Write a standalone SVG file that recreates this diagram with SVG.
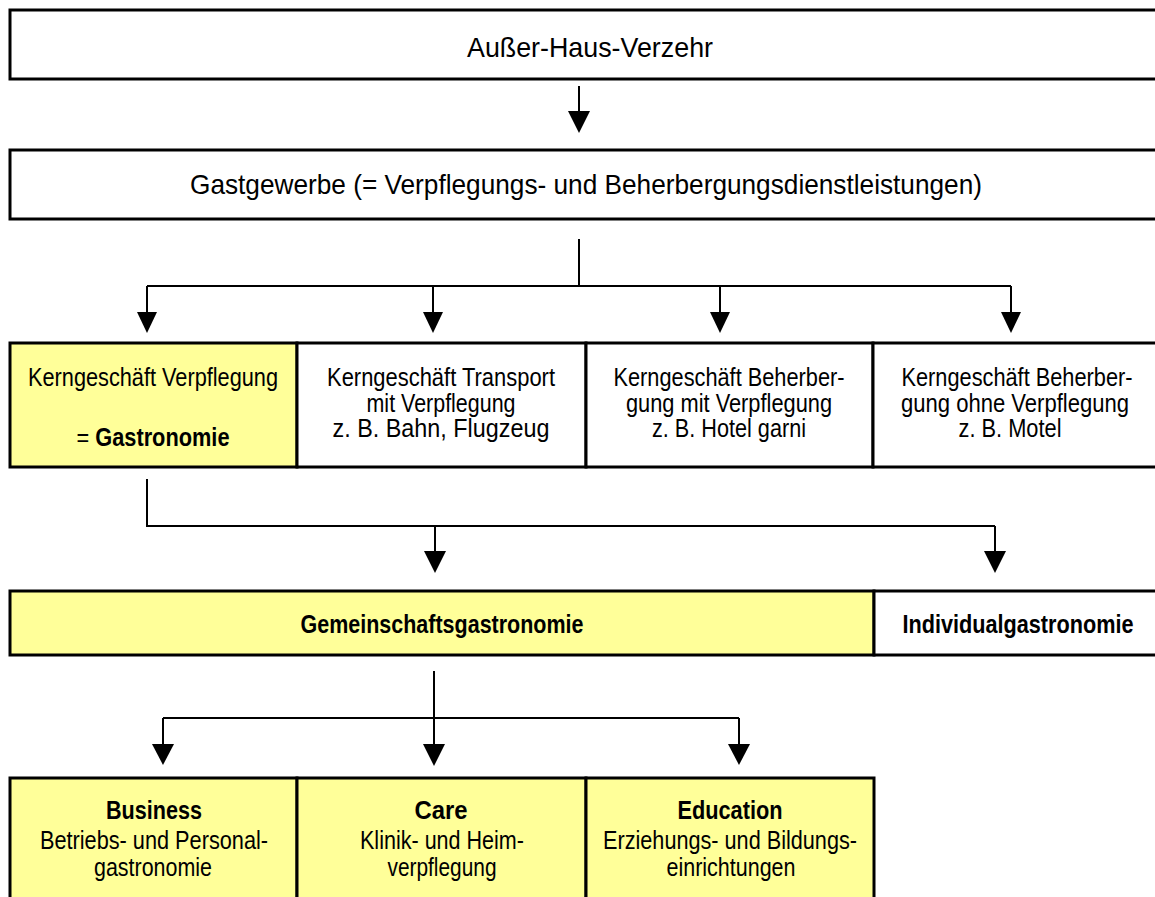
<svg xmlns="http://www.w3.org/2000/svg" width="1155" height="897" viewBox="0 0 1155 897">
<style>
.box{fill:#fff;stroke:#000;stroke-width:3}
.yel{fill:#ffff99;stroke:#000;stroke-width:3}
.t{font-family:"Liberation Sans",Arial,sans-serif;font-size:25px;fill:#000;text-anchor:middle}
.big{font-size:28px}
.b{font-weight:bold}
.c{fill:none;stroke:#000;stroke-width:2}
.h{fill:#000;stroke:none}
</style>
<rect width="1155" height="897" fill="#fff"/>
<g id="connectors">
<path class="c" d="M579,86V112"/>
<polygon class="h" points="568,111 590,111 579,133"/>
<path class="c" d="M579,239V286M147,286H1011M147,286V313M433,286V313M720,286V313M1011,286V313"/>
<polygon class="h" points="137,312 157,312 147,333"/>
<polygon class="h" points="423,312 443,312 433,333"/>
<polygon class="h" points="710,312 730,312 720,333"/>
<polygon class="h" points="1001,312 1021,312 1011,333"/>
<path class="c" d="M147,479V526H995M435,526V552M995,526V552"/>
<polygon class="h" points="424,551 446,551 435,573"/>
<polygon class="h" points="984,551 1006,551 995,573"/>
<path class="c" d="M434,671V745M163,718H739M163,718V745M739,718V745"/>
<polygon class="h" points="152,744 174,744 163,765"/>
<polygon class="h" points="423,744 445,744 434,766"/>
<polygon class="h" points="728,744 750,744 739,765"/>
</g>
<g id="n-ausser-haus">
<rect class="box" x="10" y="10" width="1153" height="69"/>
<text class="t big" x="590" y="57" textLength="246" lengthAdjust="spacingAndGlyphs">Außer-Haus-Verzehr</text>
</g>
<g id="n-gastgewerbe">
<rect class="box" x="10" y="150" width="1153" height="69"/>
<text class="t big" x="586" y="194" textLength="792" lengthAdjust="spacingAndGlyphs">Gastgewerbe (= Verpflegungs- und Beherbergungsdienstleistungen)</text>
</g>
<g id="n-verpflegung">
<rect class="yel" x="10" y="343" width="287" height="124"/>
<text class="t" x="153" y="386" textLength="250" lengthAdjust="spacingAndGlyphs">Kerngeschäft Verpflegung</text>
<text class="t" x="153" y="446" textLength="153" lengthAdjust="spacingAndGlyphs">= <tspan class="b">Gastronomie</tspan></text>
</g>
<g id="n-transport">
<rect class="box" x="297" y="343" width="289" height="124"/>
<text class="t" x="441" y="386" textLength="228" lengthAdjust="spacingAndGlyphs">Kerngeschäft Transport</text>
<text class="t" x="441" y="412" textLength="149" lengthAdjust="spacingAndGlyphs">mit Verpflegung</text>
<text class="t" x="441" y="437" textLength="217" lengthAdjust="spacingAndGlyphs">z. B. Bahn, Flugzeug</text>
</g>
<g id="n-beherbergung-mit">
<rect class="box" x="586" y="343" width="287" height="124"/>
<text class="t" x="729" y="386" textLength="231" lengthAdjust="spacingAndGlyphs">Kerngeschäft Beherber-</text>
<text class="t" x="729" y="412" textLength="206" lengthAdjust="spacingAndGlyphs">gung mit Verpflegung</text>
<text class="t" x="729" y="437" textLength="154" lengthAdjust="spacingAndGlyphs">z. B. Hotel garni</text>
</g>
<g id="n-beherbergung-ohne">
<rect class="box" x="873" y="343" width="290" height="124"/>
<text class="t" x="1017" y="386" textLength="231" lengthAdjust="spacingAndGlyphs">Kerngeschäft Beherber-</text>
<text class="t" x="1015" y="412" textLength="228" lengthAdjust="spacingAndGlyphs">gung ohne Verpflegung</text>
<text class="t" x="1010" y="437" textLength="103" lengthAdjust="spacingAndGlyphs">z. B. Motel</text>
</g>
<g id="n-gemeinschaft">
<rect class="yel" x="10" y="591" width="864" height="64"/>
<text class="t b" x="442" y="633" textLength="283" lengthAdjust="spacingAndGlyphs">Gemeinschaftsgastronomie</text>
</g>
<g id="n-individual">
<rect class="box" x="874" y="591" width="289" height="64"/>
<text class="t b" x="1018" y="633" textLength="231" lengthAdjust="spacingAndGlyphs">Individualgastronomie</text>
</g>
<g id="n-business">
<rect class="yel" x="10" y="778" width="287" height="140"/>
<text class="t b" x="154" y="819" textLength="96" lengthAdjust="spacingAndGlyphs">Business</text>
<text class="t" x="154" y="849" textLength="228" lengthAdjust="spacingAndGlyphs">Betriebs- und Personal-</text>
<text class="t" x="153" y="876" textLength="118" lengthAdjust="spacingAndGlyphs">gastronomie</text>
</g>
<g id="n-care">
<rect class="yel" x="297" y="778" width="289" height="140"/>
<text class="t b" x="441" y="819" textLength="53" lengthAdjust="spacingAndGlyphs">Care</text>
<text class="t" x="442" y="849" textLength="164" lengthAdjust="spacingAndGlyphs">Klinik- und Heim-</text>
<text class="t" x="442" y="876" textLength="109" lengthAdjust="spacingAndGlyphs">verpflegung</text>
</g>
<g id="n-education">
<rect class="yel" x="586" y="778" width="288" height="140"/>
<text class="t b" x="730" y="819" textLength="105" lengthAdjust="spacingAndGlyphs">Education</text>
<text class="t" x="730" y="849" textLength="254" lengthAdjust="spacingAndGlyphs">Erziehungs- und Bildungs-</text>
<text class="t" x="731" y="876" textLength="129" lengthAdjust="spacingAndGlyphs">einrichtungen</text>
</g>
</svg>
